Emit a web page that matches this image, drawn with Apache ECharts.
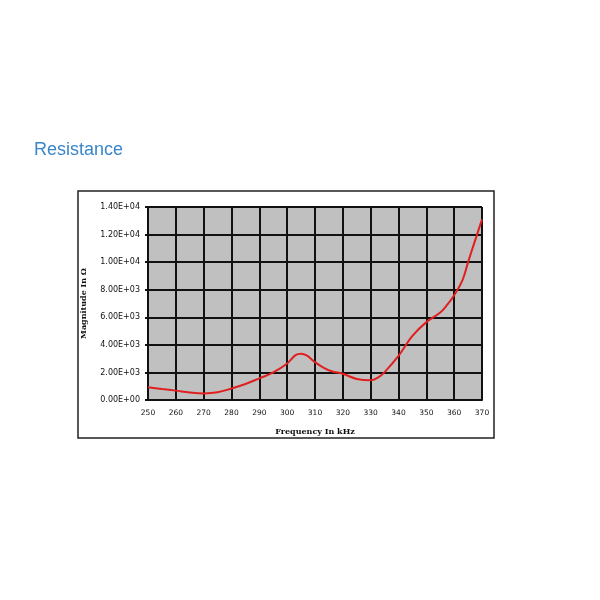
<!DOCTYPE html>
<html>
<head>
<meta charset="utf-8">
<script src="https://cdn.jsdelivr.net/npm/echarts@6/dist/echarts.min.js"></script>
<style>html,body{margin:0;padding:0;background:#fff}#c{width:600px;height:600px}</style>
</head>
<body>
<div id="c"></div>
<script>
var freq = [250, 255, 260, 265, 270, 275, 280, 285, 290, 295, 300, 303, 305, 307, 310, 313, 316, 320, 325, 330, 333, 335, 340, 345, 350, 355, 357, 360, 363, 365, 367, 370];
var magnitude = [930, 800, 680, 550, 480, 560, 830, 1160, 1570, 2000, 2650, 3250, 3350, 3230, 2750, 2350, 2080, 1900, 1530, 1430, 1680, 2020, 3200, 4650, 5650, 6350, 6780, 7600, 8700, 10000, 11250, 13100];
var yTicks = ['0.00E+00', '2.00E+03', '4.00E+03', '6.00E+03', '8.00E+03', '1.00E+04', '1.20E+04', '1.40E+04'];

var chart = echarts.init(document.getElementById('c'));
var pts = freq.map(function (f, i) { return [f, magnitude[i]]; });
chart.setOption({
  animation: false,
  title: {
    text: 'Resistance', left: 29, top: 136,
    textStyle: { fontFamily: 'Liberation Sans, Arial', fontSize: 18, fontWeight: 'normal', color: '#3a86c8' }
  },
  graphic: [{
    type: 'rect', shape: { x: 78, y: 191, width: 416, height: 247 },
    style: { fill: 'none', stroke: '#222', lineWidth: 1.5 }, z: -1
  }],
  grid: {
    left: 148, right: 118, top: 207, bottom: 200,
    show: true, backgroundColor: '#c0c0c0', borderColor: '#8a8a8a', borderWidth: 1
  },
  xAxis: {
    type: 'value', min: 250, max: 370, interval: 10,
    name: 'Frequency In kHz', nameLocation: 'middle', nameGap: 28,
    nameTextStyle: { fontFamily: 'DejaVu Serif', fontSize: 8, fontWeight: 'bold', color: '#111' },
    axisLine: { show: true, lineStyle: { color: '#111', width: 2 } },
    axisTick: { show: false },
    axisLabel: { fontFamily: 'DejaVu Sans', fontSize: 7.5, color: '#111', margin: 9 },
    splitLine: { show: true, lineStyle: { color: '#111', width: 2 } }
  },
  yAxis: {
    type: 'value', min: 0, max: 14000, interval: 2000,
    name: 'Magnitude In Ω', nameLocation: 'middle', nameGap: 60,
    nameTextStyle: { fontFamily: 'DejaVu Serif', fontSize: 8, fontWeight: 'bold', color: '#111' },
    axisLine: { show: true, lineStyle: { color: '#111', width: 2 } },
    axisTick: { show: true, length: 3, lineStyle: { color: '#111', width: 2 } },
    axisLabel: {
      fontFamily: 'DejaVu Sans', fontSize: 8, color: '#111', margin: 8,
      formatter: function (v) { return yTicks[Math.round(v / 2000)]; }
    },
    splitLine: { show: true, lineStyle: { color: '#111', width: 2 } }
  },
  series: [{
    type: 'line', data: pts, smooth: 0.4, showSymbol: false,
    lineStyle: { color: '#e02020', width: 2 }
  }]
});
</script>
</body>
</html>
